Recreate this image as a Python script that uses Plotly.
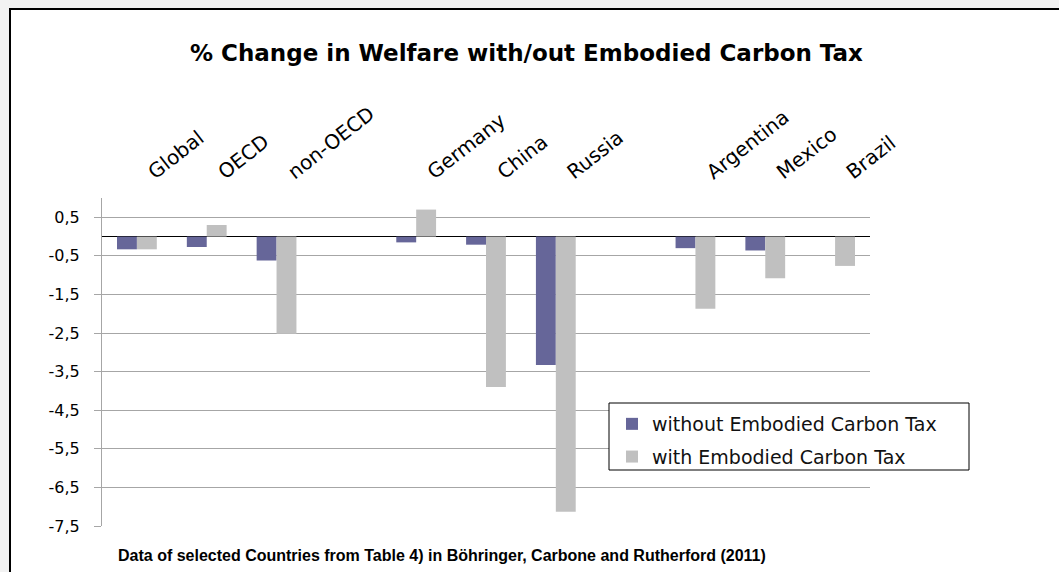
import plotly.graph_objects as go

categories = ["Global", "OECD", "non-OECD", " ", "Germany", "China", "Russia", "  ", "Argentina", "Mexico", "Brazil"]
without_tax = [-0.33, -0.27, -0.62, None, -0.15, -0.21, -3.33, None, -0.30, -0.36, 0.0]
with_tax = [-0.33, 0.30, -2.52, None, 0.70, -3.90, -7.13, None, -1.87, -1.08, -0.76]
y_ticks = [0.5, -0.5, -1.5, -2.5, -3.5, -4.5, -5.5, -6.5, -7.5]
y_tick_labels = ["0,5", "-0,5", "-1,5", "-2,5", "-3,5", "-4,5", "-5,5", "-6,5", "-7,5"]

W, H = 1059, 572
L, R, T, B = 102, 189, 198, 46
pw, ph = W - L - R, H - T - B

def px2x(px):
    return (px - L) / pw

def px2y(py):
    return (H - B - py) / ph

WIDE = "DejaVu Sans, Liberation Sans, Arial, sans-serif"

fig = go.Figure()
fig.add_trace(go.Bar(x=categories, y=without_tax, name="without Embodied Carbon Tax",
                     legendgroup="a", marker=dict(color="#666699", line=dict(width=0))))
fig.add_trace(go.Bar(x=categories, y=with_tax, name="with Embodied Carbon Tax",
                     legendgroup="b", marker=dict(color="#C0C0C0", line=dict(width=0))))

fig.update_layout(
    width=W, height=H,
    margin=dict(l=L, r=R, t=T, b=B, pad=0),
    paper_bgcolor="#F2F2F2",
    plot_bgcolor="rgba(0,0,0,0)",
    barmode="group", bargap=0.43, bargroupgap=0,
    font=dict(family=WIDE, color="black"),
    showlegend=True,
    legend=dict(x=px2x(612), y=px2y(405), xanchor="left", yanchor="top",
                bgcolor="rgba(0,0,0,0)", borderwidth=0,
                font=dict(size=19, color="#111", family=WIDE), itemwidth=30,
                traceorder="grouped", tracegroupgap=5, itemsizing="constant"),
    xaxis=dict(type="category", categoryorder="array", categoryarray=categories,
               side="top", tickangle=-38, showline=False, showgrid=False,
               ticks="", tickfont=dict(size=20, color="black", family=WIDE),
               ticklabelstandoff=11, ticklabelshift=12,
               zeroline=False),
    yaxis=dict(range=[-7.5, 1.0], tickmode="array", tickvals=y_ticks, ticktext=y_tick_labels,
               showgrid=True, gridcolor="#A6A6A6", gridwidth=1,
               showline=True, linecolor="#A6A6A6", linewidth=1,
               ticks="outside", ticklen=7, tickcolor="#A6A6A6",
               tickfont=dict(size=16, color="black", family=WIDE), ticklabelstandoff=11,
               zeroline=True, zerolinecolor="black", zerolinewidth=1),
    shapes=[
        dict(type="rect", xref="paper", yref="paper", layer="below",
             x0=px2x(10), x1=px2x(1075), y0=px2y(590), y1=px2y(9),
             fillcolor="white", line=dict(color="black", width=2)),
        dict(type="rect", xref="paper", yref="paper", layer="above",
             x0=px2x(609), x1=px2x(969), y0=px2y(470), y1=px2y(403),
             fillcolor="white", line=dict(color="black", width=1)),
    ],
    annotations=[
        dict(text="<b>% Change in Welfare with/out Embodied Carbon Tax</b>",
             xref="paper", yref="paper", x=px2x(526), y=px2y(53),
             xanchor="center", yanchor="middle", showarrow=False,
             font=dict(size=23, color="black", family=WIDE)),
        dict(text="<b>Data of selected Countries from Table 4) in Böhringer, Carbone and Rutherford (2011)</b>",
             xref="paper", yref="paper", x=px2x(442), y=px2y(555),
             xanchor="center", yanchor="middle", showarrow=False,
             font=dict(size=16, color="black", family="Liberation Sans, Arial, sans-serif")),
    ],
)

fig.write_html("out.html")
